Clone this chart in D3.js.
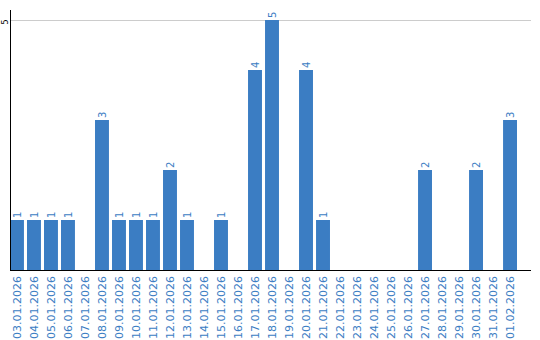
<!DOCTYPE html>
<html>
<head>
<meta charset="utf-8">
<script src="https://cdn.jsdelivr.net/npm/d3@7"></script>
<style>
  body { margin: 0; background: #fff; }
  svg { display: block; font-family: "DejaVu Sans", Verdana, sans-serif; }
</style>
</head>
<body>
<div id="chart"></div>
<script>
(function () {
    const dates = ["03.01.2026", "04.01.2026", "05.01.2026", "06.01.2026", "07.01.2026",
        "08.01.2026", "09.01.2026", "10.01.2026", "11.01.2026", "12.01.2026",
        "13.01.2026", "14.01.2026", "15.01.2026", "16.01.2026", "17.01.2026",
        "18.01.2026", "19.01.2026", "20.01.2026", "21.01.2026", "22.01.2026",
        "23.01.2026", "24.01.2026", "25.01.2026", "26.01.2026", "27.01.2026",
        "28.01.2026", "29.01.2026", "30.01.2026", "31.01.2026", "01.02.2026"];
    const counts = [1, 1, 1, 1, 0, 3, 1, 1, 1, 2, 1, 0, 1, 0, 4, 5, 0, 4, 1, 0,
        0, 0, 0, 0, 2, 0, 0, 2, 0, 3];
    const yTicks = [5];

    const width = 540, height = 340;
    const left = 10, top = 10, bottom = 270, axisRight = 531;
    const barColor = '#3b7dc3';

    const data = dates.map(function (d, i) { return { date: d, count: counts[i] }; });

    var svg = d3.select('#chart').append('svg')
        .attr('width', width)
        .attr('height', height);

    var x = d3.scaleBand()
        .domain(dates)
        .range([left, 517])
        .paddingInner(0.18)
        .paddingOuter(0);

    var y = d3.scaleLinear()
        .domain([0, 5.2])
        .range([bottom, top]);

    // grid line
    svg.append('g').selectAll('line').data(yTicks)
        .enter().append('line')
        .attr('x1', left)
        .attr('x2', axisRight)
        .attr('y1', d => y(d) + 0.5)
        .attr('y2', d => y(d) + 0.5)
        .attr('stroke', '#cccccc')
        .attr('stroke-width', 1);

    // y tick labels (rotated)
    svg.append('g').selectAll('text').data(yTicks)
        .enter().append('text')
        .attr('transform', d => `translate(8,${y(d) + 2}) rotate(-90)`)
        .attr('text-anchor', 'middle')
        .attr('font-size', 8)
        .attr('fill', '#000')
        .text(d => d);

    // bars
    svg.append('g').selectAll('rect').data(data.filter(d => d.count > 0))
        .enter().append('rect')
        .attr('x', d => x(d.date))
        .attr('y', d => y(d.count))
        .attr('width', x.bandwidth())
        .attr('height', d => y(0) - y(d.count))
        .attr('fill', barColor);

    // value labels
    svg.append('g').selectAll('text').data(data.filter(d => d.count > 0))
        .enter().append('text')
        .attr('transform', d => `translate(${x(d.date) + x.bandwidth() / 2 + 4},${y(d.count) - 2}) rotate(-90)`)
        .attr('font-size', 10)
        .attr('fill', barColor)
        .text(d => d.count);

    // axes lines
    svg.append('line')
        .attr('x1', left + 0.5).attr('x2', left + 0.5)
        .attr('y1', top).attr('y2', bottom)
        .attr('stroke', '#000');

    svg.append('line')
        .attr('x1', left).attr('x2', axisRight)
        .attr('y1', bottom + 0.5).attr('y2', bottom + 0.5)
        .attr('stroke', '#000');

    // x labels
    svg.append('g').selectAll('text').data(dates)
        .enter().append('text')
        .attr('transform', d => `translate(${x(d) + x.bandwidth() / 2 + 4},${bottom + 6}) rotate(-90)`)
        .attr('text-anchor', 'end')
        .attr('font-size', 11)
        .attr('fill', '#3b7dc3')
        .text(d => d);
})();
</script>
</body>
</html>
